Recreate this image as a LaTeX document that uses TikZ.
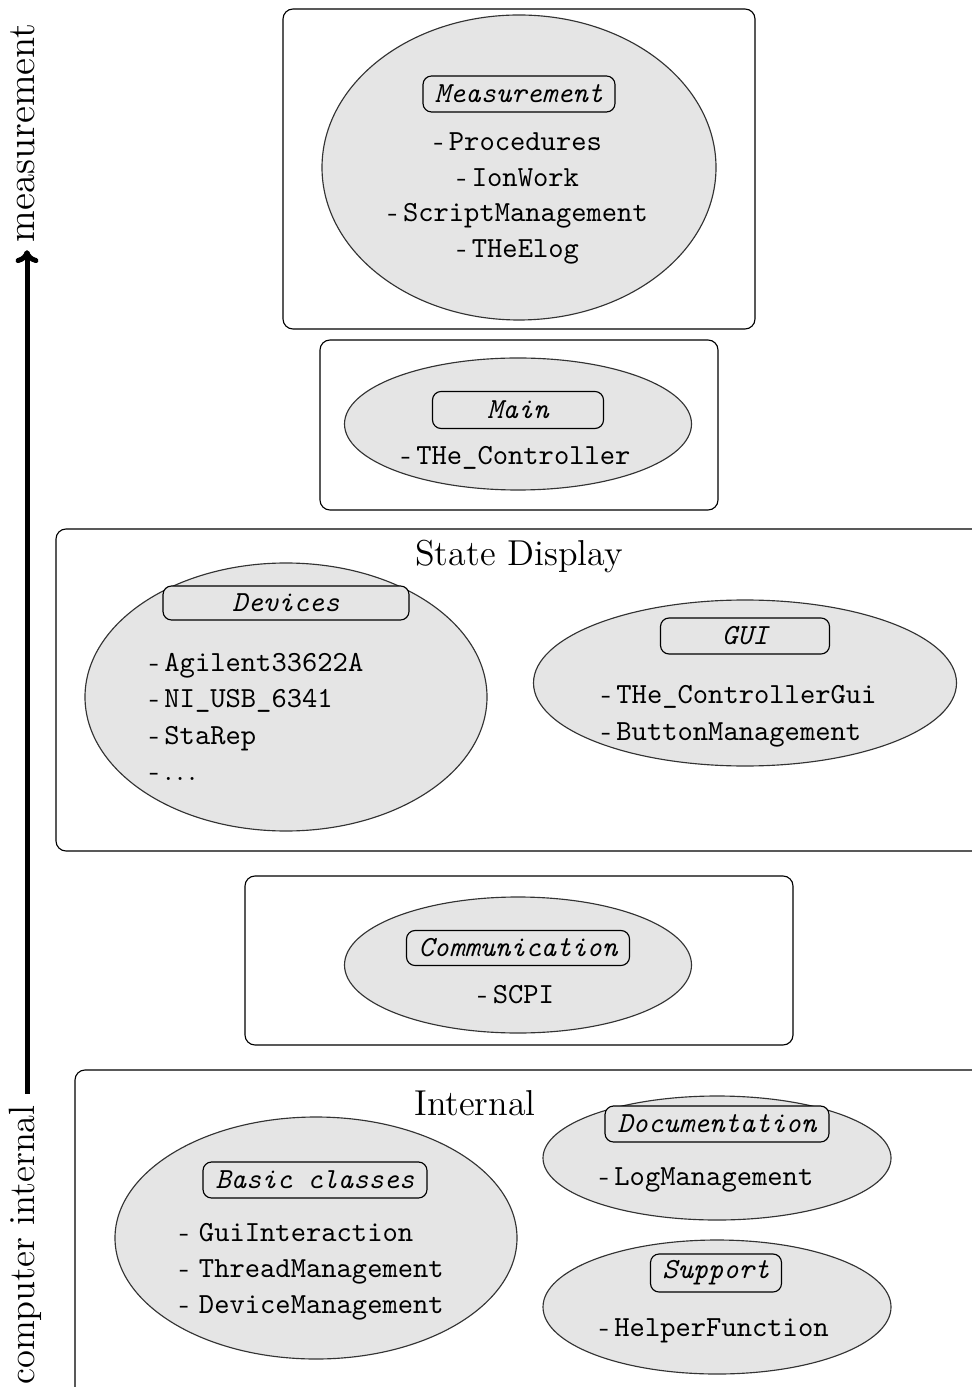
\documentclass[tikz,border=0pt]{standalone}
\usetikzlibrary{shapes.geometric,arrows.meta}
\newcommand\dsh{\textrm{-}\hspace{1.8pt}}
\newcommand\dshsp{\textrm{- }}
\newcommand\spdots{\textrm{.\kern1.3pt.\kern1.3pt.}}
\begin{document}
\begin{tikzpicture}[x=0.35pt,y=-0.35pt,
  frame/.style={draw=black,line width=0.4pt,rounded corners=3.5pt},
  ell/.style 2 args={ellipse,draw=black!80,fill=gray!20,line width=0.4pt,inner sep=0pt,minimum width=#1*0.35pt,minimum height=#2*0.35pt},
  ttl/.style 2 args={draw=black,fill=gray!20,rounded corners=3pt,line width=0.4pt,inner sep=0pt,
     minimum width=#1*0.35pt,minimum height=#2*0.35pt,font=\fontsize{10.2}{12}\selectfont\ttfamily\itshape},
  item/.style={inner sep=0pt,font=\fontsize{10.2}{12}\selectfont\ttfamily},
  sect/.style={inner sep=0pt,font=\fontsize{12.6}{14}\selectfont},
  side/.style={inner sep=0pt,rotate=90,anchor=base,font=\fontsize{12.8}{14}\selectfont}]
\clip (0,0) rectangle (972,1387);
\useasboundingbox (0,0) rectangle (972,1387);
% frames
\draw[frame] (283,9) rectangle (755,329);
\draw[frame] (320,340) rectangle (718,510);
\draw[frame] (56,529) rectangle (995,851);
\draw[frame] (245,876) rectangle (793,1045);
\draw[frame] (75,1070) rectangle (995,1410);
% ellipses
\node[ell={394}{305}] (eMeas) at (519,167.5) {};
\node[ell={347}{132}] (eMain) at (518,424) {};
\node[ell={402}{268}] (eDev) at (286,697) {};
\node[ell={423}{166}] (eGui) at (745,683) {};
\node[ell={347}{136}] (eCom) at (518,965) {};
\node[ell={402}{242}] (eBas) at (316,1238) {};
\node[ell={348}{124}] (eDoc) at (717,1158) {};
\node[ell={348}{134}] (eSup) at (717,1307) {};
% titles
\node[ttl={192}{36}] (tMeas) at (519,94) {Measurement};
\node[ttl={171}{37}] (tMain) at (518,410) {Main};
\node[ttl={246}{34}] (tDev) at (286,603) {Devices};
\node[ttl={169}{36}] (tGui) at (745,636) {GUI};
\node[ttl={223}{35}] (tCom) at (518,948) {Communication};
\node[ttl={224}{36}] (tBas) at (315,1180) {Basic classes};
\node[ttl={224}{36}] (tDoc) at (717,1124) {Documentation};
\node[ttl={131}{38}] (tSup) at (716,1273) {Support};
% section labels
\node[sect,anchor=base] (sState) at (519,566) {State Display};
\node[sect,anchor=base] (sInt) at (475,1115) {Internal};
% Measurement items
\node[item,anchor=base] (m1) at (518,151) {\dsh Procedures};
\node[item,anchor=base] (m2) at (518,187) {\dsh IonWork};
\node[item,anchor=base] (m3) at (518,222) {\dsh ScriptManagement};
\node[item,anchor=base] (m4) at (518,258) {\dsh THeElog};
% Main
\node[item,anchor=base] (c1) at (516,465) {\dsh THe\_Controller};
% Devices
\node[item,anchor=base west] (d1) at (149,671) {\dsh Agilent33622A};
\node[item,anchor=base west] (d2) at (149,707) {\dsh NI\_USB\_6341};
\node[item,anchor=base west] (d3) at (149,744) {\dsh StaRep};
\node[item,anchor=base west] (d4) at (149,780) {\dsh\spdots};
% GUI
\node[item,anchor=base west] (g1) at (601,703) {\dsh THe\_ControllerGui};
\node[item,anchor=base west] (g2) at (601,740) {\dsh ButtonManagement};
% Communication
\node[item,anchor=base] (k1) at (516,1003) {\dsh SCPI};
% Basic classes
\node[item,anchor=base west] (b1) at (179,1241) {\dshsp GuiInteraction};
\node[item,anchor=base west] (b2) at (179,1277) {\dshsp ThreadManagement};
\node[item,anchor=base west] (b3) at (179,1313) {\dshsp DeviceManagement};
% Documentation
\node[item,anchor=base west] (o1) at (599,1185) {\dsh LogManagement};
% Support
\node[item,anchor=base west] (p1) at (599,1336) {\dsh HelperFunction};
% side axis
\node[side] (ci) at (34,1245) {computer internal};
\node[side,font=\fontsize{13.6}{15}\selectfont] (me) at (34,133) {measurement};
\coordinate (ax) at (27,0);
\draw[line width=1.75pt,-{To[length=4.5pt,width=8pt]},shorten <=3.9pt,shorten >=2.5pt]
  (ci.east -| ax) -- (me.west -| ax);
\end{tikzpicture}
\end{document}
